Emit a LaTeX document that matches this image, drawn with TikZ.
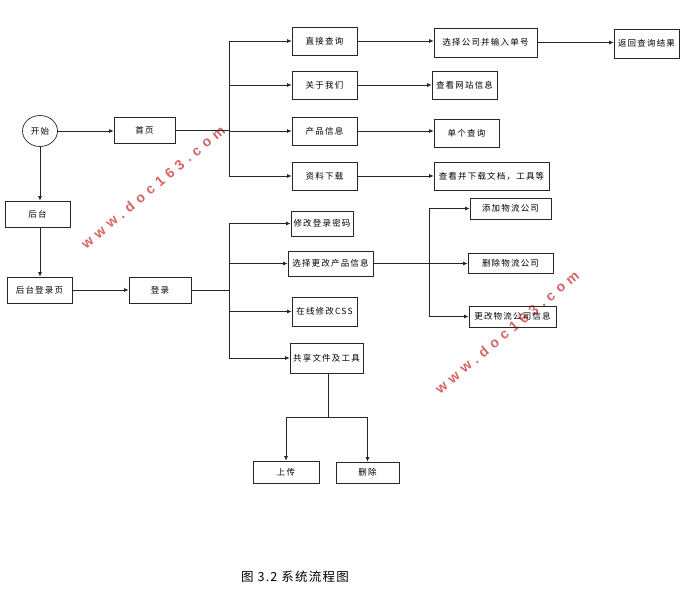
\documentclass[tikz,border=0pt]{standalone}
\usepackage{fontspec}
\newfontfamily\cjk[LetterSpace=14]{Noto Sans CJK SC}
\newfontfamily\capfont[LetterSpace=10]{Noto Sans CJK SC}
\newfontfamily\wmfont[LetterSpace=36]{Liberation Sans}
\usetikzlibrary{arrows.meta,shapes.geometric}
\definecolor{wmred}{RGB}{214,100,100}
\begin{document}
\begin{tikzpicture}[x=1pt, y=-1pt, >={Latex[length=4.5pt,width=4pt]}, line width=0.7pt, draw=black!85,
	every node/.style={font=\cjk\fontsize{8.5}{10}\selectfont, inner sep=1pt},
	box/.style={draw, rectangle, minimum height=#1},
	box/.default=28,
	flow/.style={->, black!85},
	mark text/.style={font=\wmfont\bfseries\fontsize{14}{16}\selectfont, text=wmred, rotate=40}]
	\useasboundingbox (0,0) rectangle (681,591);
	
	% 水印
	\node[mark text] (wm1) at (153,187) {www.doc163.com};
	\node[mark text] (wm2) at (507,332) {www.doc163.com};
	
	% 开始
	\node[draw, ellipse, minimum width=35, minimum height=31] (start) at (40,131) {开始};
	\node[box=26, minimum width=61] (home) at (144.5,130) {首页};
	\node[box=26, minimum width=65] (back) at (37.5,214) {后台};
	\node[box=26, minimum width=65] (backlogin) at (39.5,290) {后台登录页};
	\node[box=26, minimum width=62] (login) at (160,290) {登录};
	
	% 前台
	\node[box, minimum width=65] (query) at (324.5,41) {直接查询};
	\node[box, minimum width=65] (about) at (324.5,85) {关于我们};
	\node[box, minimum width=65] (prod) at (324.5,131) {产品信息};
	\node[box, minimum width=65] (down) at (324.5,176) {资料下载};
	\node[box=29, minimum width=103] (select) at (485.5,42.5) {选择公司并输入单号};
	\node[box=29, minimum width=65] (result) at (646.5,43.5) {返回查询结果};
	\node[box, minimum width=65] (site) at (464.5,85) {查看网站信息};
	\node[box, minimum width=65] (single) at (466.5,133) {单个查询};
	\node[box, minimum width=115] (view) at (491.5,176) {查看并下载文档，工具等};
	
	% 后台
	\node[box=25, minimum width=62] (pwd) at (322,223.5) {修改登录密码};
	\node[box=25, minimum width=85] (change) at (330.5,263.5) {选择更改产品信息};
	\node[box=29, minimum width=65] (css) at (324.5,311.5) {在线修改CSS};
	\node[box=30, minimum width=73] (share) at (326.5,358) {共享文件及工具};
	\node[box=21, minimum width=81] (add) at (510.5,208.5) {添加物流公司};
	\node[box=20, minimum width=85] (del) at (510.5,263.5) {删除物流公司};
	\node[box=21, minimum width=87] (upd) at (512.5,316.5) {更改物流公司信息};
	\node[box=22, minimum width=66] (upload) at (286,472) {上传};
	\node[box=21, minimum width=63] (remove) at (367.5,472.5) {删除};
	
	\coordinate (j1) at (229,130);
	\coordinate (j2) at (229,289);
	\coordinate (j3) at (429,263.5);
	\coordinate (j4) at (328,417);
	
	% 连线
	\draw[flow] (start.east) -- (start.east -| home.west);
	\draw[flow] (start.south) -- (start.south |- back.north);
	\draw[flow] (back.south -| start.south) -- (backlogin.north -| start.south);
	\draw[flow] (backlogin.east) -- (login.west);
	
	\draw (home.east) -- (j1);
	\draw (j1 |- query.west) -- (j1 |- down.west);
	\foreach \n in {query,about,prod,down}
		\draw[flow] (j1 |- \n.west) -- (\n.west);
	\draw[flow] (query.east) -- (query.east -| select.west);
	\draw[flow] (select.east) -- (select.east -| result.west);
	\draw[flow] (about.east) -- (site.west);
	\draw[flow] (prod.east) -- (prod.east -| single.west);
	\draw[flow] (down.east) -- (view.west);
	
	\draw (login.east) -- (login.east -| j2);
	\draw (j2 |- pwd.west) -- (j2 |- share.west);
	\foreach \n in {pwd,change,css,share}
		\draw[flow] (j2 |- \n.west) -- (\n.west);
	
	\draw (change.east) -- (j3);
	\draw (j3 |- add.west) -- (j3 |- upd.west);
	\foreach \n in {add,del,upd}
		\draw[flow] (j3 |- \n.west) -- (\n.west);
	
	\draw (share.south -| j4) -- (j4);
	\draw[flow] (j4) -| (upload.north);
	\draw[flow] (j4) -| (remove.north);
	
	% 图题
	\node[font=\capfont\fontsize{12.5}{14}\selectfont] (caption) at (295,577) {图 3.2 系统流程图};
\end{tikzpicture}
\end{document}
